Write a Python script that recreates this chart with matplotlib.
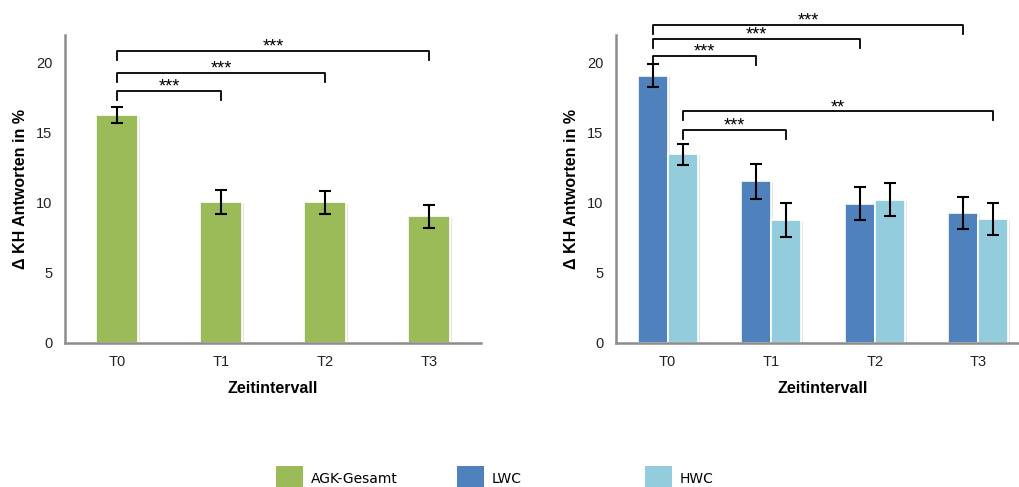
import numpy as np
import matplotlib
matplotlib.use('Agg')
import matplotlib.pyplot as plt
from matplotlib.patches import Patch
import matplotlib.patheffects as pe

plt.rcParams['font.family'] = ['Liberation Sans', 'DejaVu Sans']

# data
zeitpunkte = ['T0', 'T1', 'T2', 'T3']
agk = [16.3, 10.1, 10.05, 9.05]
agkErr = [0.55, 0.85, 0.83, 0.8]
lwc = [19.1, 11.55, 9.95, 9.3]
lwcErr = [0.8, 1.23, 1.18, 1.13]
hwc = [13.5, 8.8, 10.25, 8.85]
hwcErr = [0.75, 1.2, 1.17, 1.12]

# significance brackets: (from index, to index, bracket height, stars)
agkSig = [(0, 1, 18.0, '***'), (0, 2, 19.3, '***'), (0, 3, 20.85, '***')]
lwcSig = [(0, 1, 20.5, '***'), (0, 2, 21.7, '***'), (0, 3, 22.75, '***')]
hwcSig = [(0, 1, 15.25, '***'), (0, 3, 16.55, '**')]

green = '#9BBB59'
blue = '#4F81BD'
lightBlue = '#93CDDD'
axisGray = '#8C8C8C'

fig = plt.figure(figsize=(10.2, 4.87), dpi=100)
axLeft = fig.add_axes([65 / 1020, 1 - 343 / 487, 416 / 1020, 308 / 487])
axRight = fig.add_axes([616 / 1020, 1 - 343 / 487, 414 / 1020, 308 / 487])

shadow = [pe.withSimplePatchShadow(offset=(1.5, -1), shadow_rgbFace='#999999', alpha=0.25), pe.Normal()]
errStyle = dict(fmt='none', ecolor='black', elinewidth=1.5, capsize=4.5, capthick=1.5)


def drawBrackets(ax, xs, sig, leg=0.65):
    for i, j, y, stars in sig:
        ax.plot([xs[i], xs[i], xs[j], xs[j]], [y - leg, y, y, y - leg],
                color='black', lw=1.3, clip_on=False, solid_joinstyle='round')
        ax.text((xs[i] + xs[j]) / 2, y - 0.05, stars, ha='center', va='baseline',
                fontsize=13, clip_on=False)


def styleAxis(ax):
    ax.set_xlim(-0.5, 3.5)
    ax.set_ylim(0, 22)
    ax.set_yticks([0, 5, 10, 15, 20])
    ax.set_xticks(range(len(zeitpunkte)))
    ax.set_xticklabels(zeitpunkte)
    for s in ['top', 'right']:
        ax.spines[s].set_visible(False)
    for s in ['left', 'bottom']:
        ax.spines[s].set_color(axisGray)
        ax.spines[s].set_linewidth(1.8)
    ax.tick_params(axis='y', length=0, pad=9, labelsize=10.5, labelcolor='#222222')
    ax.tick_params(axis='x', length=0, pad=9, labelsize=10.5, labelcolor='#222222')
    ax.set_ylabel('Δ KH Antworten in %', fontsize=11.5, fontweight='bold', labelpad=6)
    ax.set_xlabel('Zeitintervall', fontsize=11.5, fontweight='bold', labelpad=8)


x = np.arange(len(zeitpunkte))

# left chart
bars = axLeft.bar(x, agk, 0.41, color=green, edgecolor='white', linewidth=1.2)
for b in bars:
    b.set_path_effects(shadow)
axLeft.errorbar(x, agk, yerr=agkErr, **errStyle)
drawBrackets(axLeft, x, agkSig)
styleAxis(axLeft)

# right chart
w = 0.29
xL = x - w / 2
xH = x + w / 2
barsL = axRight.bar(xL, lwc, w, color=blue, edgecolor='white', linewidth=1.2)
barsH = axRight.bar(xH, hwc, w, color=lightBlue, edgecolor='white', linewidth=1.2)
for b in list(barsL) + list(barsH):
    b.set_path_effects(shadow)
axRight.errorbar(xL, lwc, yerr=lwcErr, **errStyle)
axRight.errorbar(xH, hwc, yerr=hwcErr, **errStyle)
drawBrackets(axRight, xL, lwcSig)
drawBrackets(axRight, xH, hwcSig)
styleAxis(axRight)

# legend entries placed individually
legendItems = [(green, 'AGK-Gesamt', 276), (blue, 'LWC', 457), (lightBlue, 'HWC', 645)]
for color, label, px in legendItems:
    fig.legend(handles=[Patch(facecolor=color, edgecolor='none')], labels=[label],
               loc='center left', bbox_to_anchor=(px / 1020, 8 / 487), frameon=False,
               handlelength=1.95, handleheight=2.4, handletextpad=0.55, borderpad=0,
               borderaxespad=0, prop={'family': 'DejaVu Sans', 'size': 10})

fig.savefig('out.png', dpi=100)
